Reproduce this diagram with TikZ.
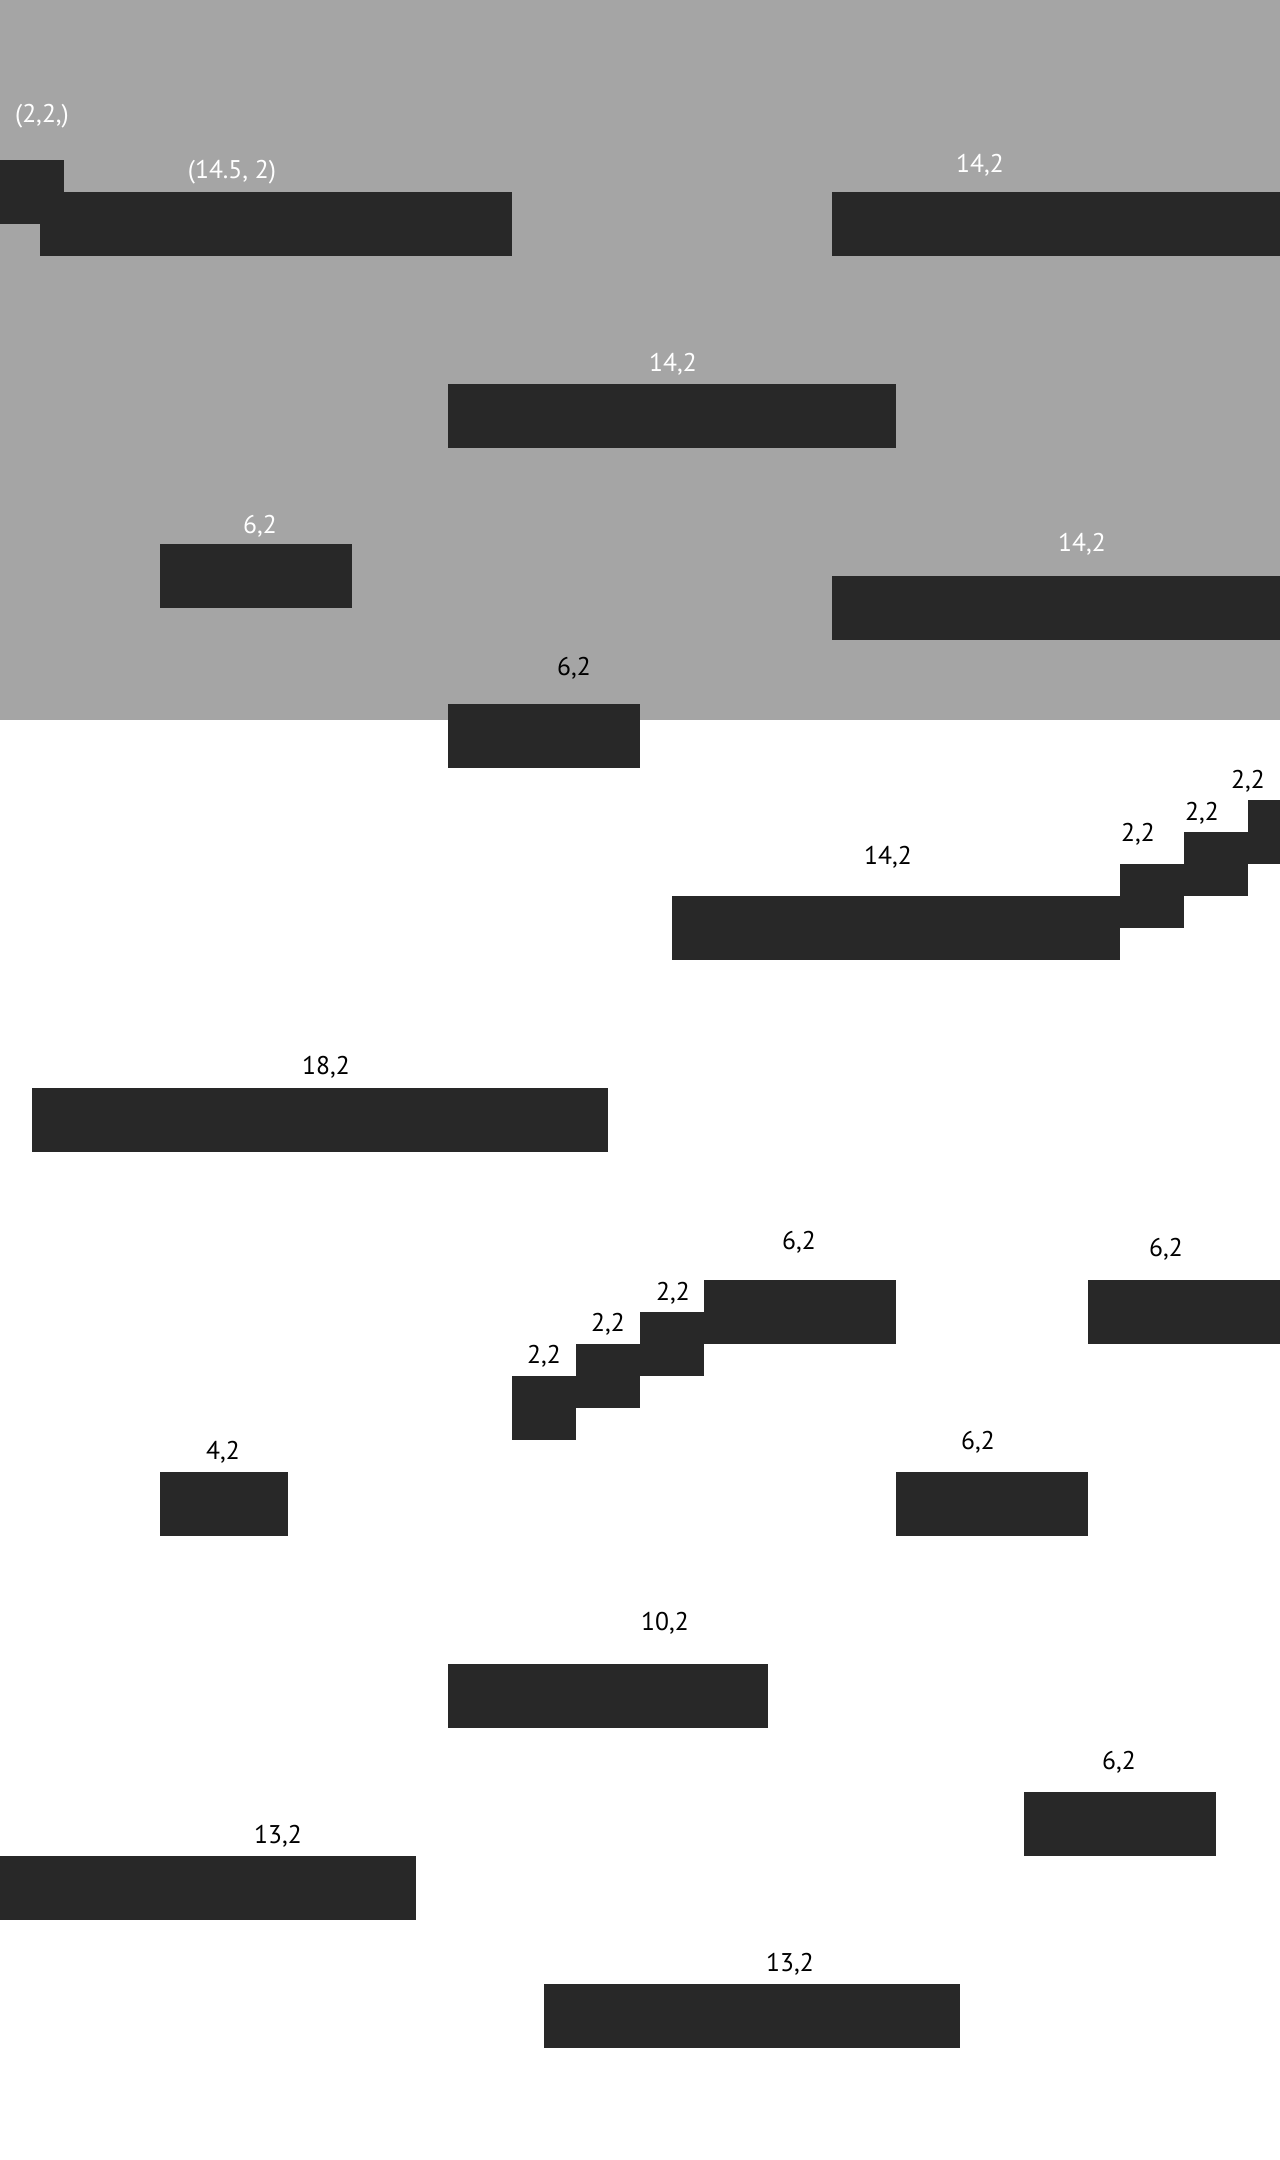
\documentclass[tikz,border=0pt]{standalone}
\usepackage{fontspec}
\setmainfont{PT Sans}
\definecolor{boxc}{HTML}{282828}
\definecolor{bgc}{HTML}{A5A5A5}
\begin{document}
\begin{tikzpicture}[x=0.5pt,y=-0.5pt,
  blk/.style={fill=boxc},
  lbl/.style={font=\fontsize{12.8pt}{14pt}\selectfont,inner sep=0pt,anchor=center,yshift=-1.2pt},
  lblw/.style={lbl,text=white},
  lblb/.style={lbl,text=black}]
\useasboundingbox (0,0) rectangle (1280,2160);
\fill[white] (0,0) rectangle (1280,2160);
\fill[bgc] (0,0) rectangle (1280,720);
% gray section
\fill[blk] (0,160) rectangle (64,224);
\fill[blk] (40,192) rectangle (512,256);
\node[lblw] (l1) at (42,114) {(2,2,)};
\node[lblw] (l2) at (232,170) {(14.5, 2)};
\fill[blk] (832,192) rectangle (1280,256);
\node[lblw] (l3) at (980,163) {14,2};
\fill[blk] (448,384) rectangle (896,448);
\node[lblw] (l4) at (673,362) {14,2};
\fill[blk] (160,544) rectangle (352,608);
\node[lblw] (l5) at (260,524) {6,2};
\fill[blk] (832,576) rectangle (1280,640);
\node[lblw] (l6) at (1082,542) {14,2};
\fill[blk] (448,704) rectangle (640,768);
\node[lblb] (l7) at (574,666) {6,2};
% white section
\fill[blk] (672,896) rectangle (1120,960);
\node[lblb] (l8) at (888,855) {14,2};
\fill[blk] (1120,864) rectangle (1184,928);
\node[lblb] (l9) at (1138,832) {2,2};
\fill[blk] (1184,832) rectangle (1248,896);
\node[lblb] (l10) at (1202,811) {2,2};
\fill[blk] (1248,800) rectangle (1280,864);
\node[lblb] (l11) at (1248,779) {2,2};
\fill[blk] (32,1088) rectangle (608,1152);
\node[lblb] (l12) at (326,1065) {18,2};
\fill[blk] (704,1280) rectangle (896,1344);
\node[lblb] (l13) at (799,1240) {6,2};
\fill[blk] (1088,1280) rectangle (1280,1344);
\node[lblb] (l14) at (1166,1247) {6,2};
\fill[blk] (640,1312) rectangle (704,1376);
\node[lblb] (l15) at (673,1291) {2,2};
\fill[blk] (576,1344) rectangle (640,1408);
\node[lblb] (l16) at (608,1322) {2,2};
\fill[blk] (512,1376) rectangle (576,1440);
\node[lblb] (l17) at (544,1354) {2,2};
\fill[blk] (160,1472) rectangle (288,1536);
\node[lblb] (l18) at (223,1450) {4,2};
\fill[blk] (896,1472) rectangle (1088,1536);
\node[lblb] (l19) at (978,1440) {6,2};
\fill[blk] (448,1664) rectangle (768,1728);
\node[lblb] (l20) at (665,1621) {10,2};
\fill[blk] (1024,1792) rectangle (1216,1856);
\node[lblb] (l21) at (1119,1760) {6,2};
\fill[blk] (0,1856) rectangle (416,1920);
\node[lblb] (l22) at (278,1834) {13,2};
\fill[blk] (544,1984) rectangle (960,2048);
\node[lblb] (l23) at (790,1962) {13,2};
\end{tikzpicture}
\end{document}
